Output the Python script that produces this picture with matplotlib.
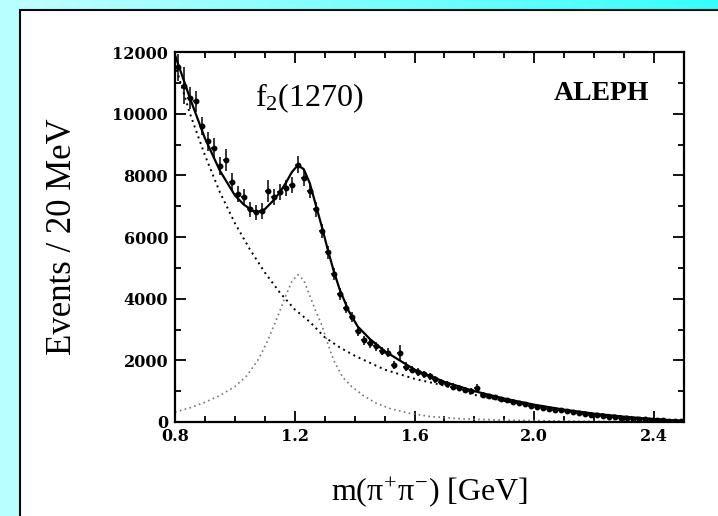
import numpy as np
import matplotlib
matplotlib.use("Agg")
import matplotlib.pyplot as plt
from matplotlib.patches import Rectangle
from matplotlib.ticker import MultipleLocator

plt.rcParams['mathtext.fontset'] = 'custom'
plt.rcParams['mathtext.rm'] = 'Liberation Serif'
plt.rcParams['mathtext.it'] = 'Liberation Serif'
plt.rcParams['mathtext.bf'] = 'Liberation Serif:bold'

# measured pi+pi- mass spectrum, 20 MeV bins
mass = [0.81, 0.83, 0.85, 0.87, 0.89, 0.91, 0.93, 0.95, 0.97, 0.99,
        1.01, 1.03, 1.05, 1.07, 1.09, 1.11, 1.13, 1.15, 1.17, 1.19,
        1.21, 1.23, 1.25, 1.27, 1.29, 1.31, 1.33, 1.35, 1.37, 1.39,
        1.41, 1.43, 1.45, 1.47, 1.49, 1.51, 1.53, 1.55, 1.57, 1.59,
        1.61, 1.63, 1.65, 1.67, 1.69, 1.71, 1.73, 1.75, 1.77, 1.79,
        1.81, 1.83, 1.85, 1.87, 1.89, 1.91, 1.93, 1.95, 1.97, 1.99,
        2.01, 2.03, 2.05, 2.07, 2.09, 2.11, 2.13, 2.15, 2.17, 2.19,
        2.21, 2.23, 2.25, 2.27, 2.29, 2.31, 2.33, 2.35, 2.37, 2.39,
        2.41, 2.43, 2.45, 2.47, 2.49]
events = [11500, 10900, 10500, 10400, 9600, 9100, 8900, 8300, 8500, 7800,
          7400, 7300, 6900, 6800, 6850, 7500, 7300, 7450, 7600, 7700,
          8350, 7900, 7500, 6900, 6200, 5500, 4800, 4150, 3700, 3400,
          2950, 2650, 2550, 2450, 2300, 2250, 1850, 2250, 1800, 1700,
          1620, 1550, 1480, 1380, 1300, 1220, 1150, 1100, 1040, 1000,
          1100, 880, 830, 800, 740, 700, 660, 620, 580, 530,
          500, 470, 430, 400, 380, 350, 320, 300, 270, 240,
          220, 190, 170, 150, 130, 120, 110, 95, 85, 70,
          60, 50, 40, 35, 30]
errors = [450, 600, 350, 350, 300, 300, 300, 280, 350, 280,
          260, 260, 250, 250, 250, 350, 260, 260, 260, 260,
          280, 260, 250, 240, 230, 220, 200, 190, 180, 170,
          160, 150, 150, 150, 140, 140, 130, 250, 130, 120,
          120, 110, 110, 110, 100, 100, 100, 90, 90, 90,
          120, 80, 80, 80, 70, 70, 70, 70, 60, 60,
          60, 60, 50, 50, 50, 50, 50, 40, 40, 40,
          40, 40, 40, 30, 30, 30, 30, 30, 30, 30,
          30, 30, 30, 30, 30]

# fit curves
fit_m = [0.80, 0.85, 0.90, 0.95, 1.00, 1.03, 1.06, 1.08, 1.10, 1.13,
         1.15, 1.17, 1.19, 1.21, 1.23, 1.25, 1.27, 1.29, 1.31, 1.33,
         1.35, 1.38, 1.41, 1.45, 1.50, 1.55, 1.60, 1.70, 1.80, 1.90,
         2.00, 2.10, 2.20, 2.30, 2.40, 2.50]
fit_total = [11900, 10500, 9200, 8150, 7350, 7050, 6850, 6820, 6900, 7200,
             7450, 7750, 8100, 8330, 8200, 7750, 7050, 6350, 5600, 4900,
             4300, 3600, 3100, 2700, 2300, 2000, 1700, 1300, 1000, 760,
             560, 400, 270, 170, 90, 30]

bg_m = [0.80, 0.85, 0.90, 0.95, 1.00, 1.05, 1.10, 1.15, 1.20, 1.25,
        1.30, 1.35, 1.40, 1.50, 1.60, 1.70, 1.80, 1.90, 2.00, 2.10,
        2.20, 2.30, 2.40, 2.50]
bg = [11600, 10000, 8650, 7450, 6450, 5600, 4850, 4200, 3650, 3250,
      2750, 2420, 2150, 1700, 1400, 1180, 880, 680, 520, 390,
      280, 180, 100, 40]

bw_m = [0.80, 0.85, 0.90, 0.95, 1.00, 1.04, 1.08, 1.11, 1.14, 1.17,
        1.19, 1.21, 1.23, 1.25, 1.27, 1.29, 1.31, 1.33, 1.36, 1.39,
        1.43, 1.47, 1.52, 1.58, 1.65, 1.76, 1.90, 2.10, 2.30, 2.50]
bw = [320, 460, 640, 860, 1150, 1500, 2050, 2650, 3350, 4100,
      4550, 4780, 4600, 4100, 3600, 3150, 2550, 2000, 1450, 1150,
      850, 620, 430, 290, 180, 100, 60, 30, 15, 5]

fig = plt.figure(figsize=(7.18, 5.16), dpi=100)

# cyan frame around the white slide panel
bgax = fig.add_axes([0, 0, 1, 1], zorder=-10)
grad = np.linspace(0, 1, 256)
top = np.zeros((1, 256, 3))
top[0, :, 0] = (195 - 140 * grad) / 255
top[0, :, 1] = 1.0
top[0, :, 2] = 1.0
bgax.imshow(top, extent=[0, 1, 0, 1], aspect='auto')
bgax.add_patch(Rectangle((0, 0), 20 / 718, 1, color='#b8ffff'))
bgax.add_patch(Rectangle((20 / 718, -0.01), 1, 1 - 10 / 516 + 0.01,
                         facecolor='white', edgecolor='black', lw=1.5))
bgax.set_xlim(0, 1)
bgax.set_ylim(0, 1)
bgax.axis('off')

ax = fig.add_axes([175 / 718, 1 - 422 / 516, 509 / 718, 370 / 516])
ax.errorbar(mass, events, yerr=errors, xerr=0.01, fmt='o', color='black',
            ms=3.2, elinewidth=1.1, capsize=0)
ax.plot(fit_m, fit_total, color='black', lw=1.6)
ax.plot(bg_m, bg, color='black', lw=1.4, linestyle=(0, (1, 2)))
ax.plot(bw_m, bw, color='#777777', lw=1.2, linestyle=(0, (1, 2)))

ax.set_xlim(0.8, 2.5)
ax.set_ylim(0, 12000)
ax.xaxis.set_major_locator(MultipleLocator(0.4))
ax.xaxis.set_minor_locator(MultipleLocator(0.1))
ax.yaxis.set_major_locator(MultipleLocator(2000))
ax.yaxis.set_minor_locator(MultipleLocator(1000))
ax.tick_params(which='both', direction='in', top=True, right=True, width=1.3)
ax.tick_params(which='major', length=8)
ax.tick_params(which='minor', length=4)
ax.set_xticks([0.8, 1.2, 1.6, 2.0, 2.4])
ax.set_xticklabels(['0.8', '1.2', '1.6', '2.0', '2.4'])
for lab in ax.get_xticklabels() + ax.get_yticklabels():
    lab.set_fontfamily('DejaVu Serif')
    lab.set_fontweight('bold')
    lab.set_fontsize(11.5)
ax.tick_params(axis='x', pad=4)
ax.tick_params(axis='y', pad=5)
for s in ax.spines.values():
    s.set_linewidth(1.6)

ax.set_xlabel(r'm($\pi^{+}\pi^{-}$) [GeV]', family='Liberation Serif',
              fontsize=23, labelpad=22)
ax.set_ylabel('Events / 20 MeV', family='Liberation Serif', fontsize=25,
              labelpad=24)
ax.text(1.25, 10500, r'f$_2$(1270)', family='Liberation Serif', fontsize=23,
        ha='center', va='center')
ax.text(2.385, 10650, 'ALEPH', family='Liberation Serif', fontweight='bold',
        fontsize=20, ha='right', va='center')

fig.savefig('out.png', dpi=100)
